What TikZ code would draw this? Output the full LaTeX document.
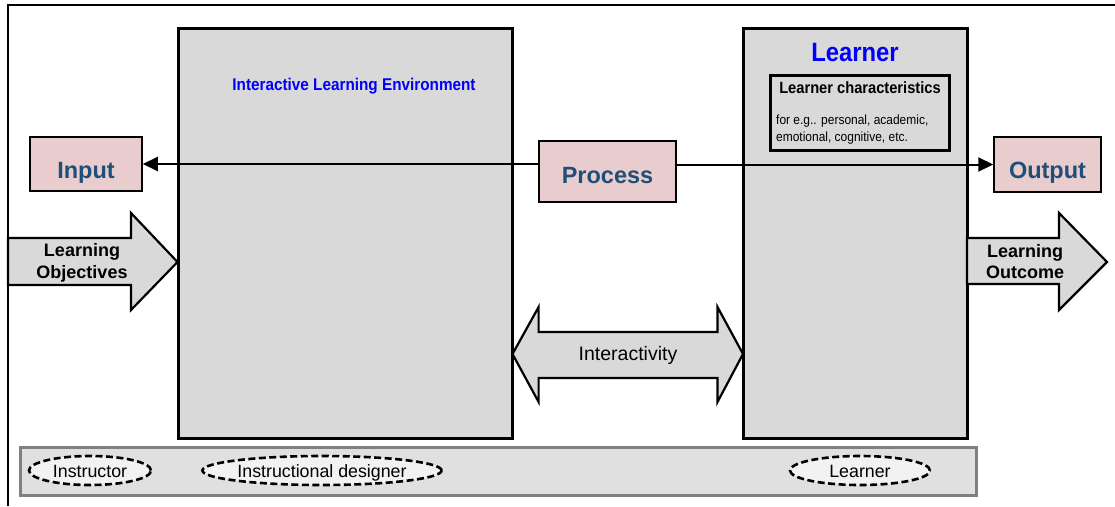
\documentclass[tikz,border=0pt]{standalone}
\usepackage{fontspec}
\setmainfont{Liberation Sans}
\newfontfamily\narrowfont[FakeStretch=0.9]{Liberation Sans}
\usetikzlibrary{arrows.meta,shapes.geometric}

\definecolor{boxgray}{HTML}{D9D9D9}
\definecolor{bandgray}{HTML}{E0E0E0}
\definecolor{bandedge}{HTML}{808080}
\definecolor{pinkbox}{HTML}{E9CCCD}
\definecolor{navytext}{HTML}{1F4E79}
\definecolor{ovalfill}{HTML}{F2F2F2}

\tikzset{
  lbl/.style={inner sep=0pt},
  bigbox/.style={draw,line width=3pt,fill=boxgray,inner sep=0pt},
  iobox/.style={draw,line width=1.5pt,fill=pinkbox,text=navytext,inner sep=0pt,
    font=\bfseries\fontsize{23.5}{28}\selectfont},
  blockarrow/.style={draw,line width=2.2pt,fill=boxgray,line join=miter},
  role/.style={ellipse,draw,dash pattern=on 7pt off 3.5pt,line width=2.6pt,fill=ovalfill,
    inner sep=0pt,text height=13pt,text depth=0pt,minimum height=29pt,
    font=\fontsize{17.8}{20}\selectfont},
  flow/.style={line width=2pt,-{Triangle[length=15pt,width=14pt]}},
}

\begin{document}
\begin{tikzpicture}[x=1pt,y=-1pt]
        \useasboundingbox (0,0) rectangle (1115,506);

        % frame and bottom band
        \draw[line width=2pt] (8,506) -- (8,5) -- (1115,5);
        \node[draw=bandedge,line width=3pt,fill=bandgray,minimum width=956pt,minimum height=48pt,inner sep=0pt] (band) at (498,471) {};

        % the two main boxes
        \node[bigbox,minimum width=334.5pt,minimum height=410pt] (ile) at (345.25,233) {};
        \node[bigbox,minimum width=224.5pt,minimum height=410pt] (learner) at (855.25,233) {};

        \node[lbl,anchor=base,text=blue,font=\narrowfont\bfseries\fontsize{17}{20}\selectfont] (ilelabel) at (354,90) {Interactive Learning Environment};
        \node[lbl,anchor=base,text=blue,font=\narrowfont\bfseries\fontsize{26.5}{30}\selectfont] (learnerlabel) at (855,61.7) {Learner};

        \node[draw,line width=3pt,fill=boxgray,minimum width=179pt,minimum height=75pt,inner sep=0pt] (traits) at (859.5,112.5) {};
        \node[lbl,anchor=base,font=\narrowfont\bfseries\fontsize{16.3}{19}\selectfont] (traitstitle) at (860,93) {Learner characteristics};
        \node[lbl,anchor=base west,font=\narrowfont\fontsize{13.3}{16}\selectfont] (traitsa) at (776,124) {for e.g.. personal, academic,};
        \node[lbl,anchor=base west,font=\narrowfont\fontsize{13.3}{16}\selectfont] (traitsb) at (776,141) {emotional, cognitive, etc.};

        % input - process - output
        \node[iobox,minimum width=112pt,text height=41.3pt,text depth=12.7pt] (input) at (86,164) {Input};
        \node[iobox,minimum width=137pt,text height=42.3pt,text depth=18.7pt] (process) at (607.5,171.5) {Process};
        \node[iobox,minimum width=107pt,text height=41.3pt,text depth=13.7pt] (output) at (1047.5,164.5) {Output};

        \draw[flow] (process.west |- input.east) -- (input.east);
        \draw[flow] (process.east |- output.west) -- (output.west);

        % block arrows
        \draw[blockarrow] (8,238) -- (131,238) -- (131,213) -- (177.5,262) -- (131,310) -- (131,285) -- (8,285) -- cycle;
        \node[lbl,align=center,font=\bfseries\fontsize{18}{21.5}\selectfont] (objectives) at (82,263) {Learning\\Objectives};

        \draw[blockarrow] (967,238) -- (1059,238) -- (1059,213) -- (1107,262) -- (1059,310) -- (1059,284) -- (967,284) -- cycle;
        \node[lbl,align=center,font=\bfseries\fontsize{18}{21.5}\selectfont] (outcome) at (1025,261.7) {Learning\\Outcome};

        \draw[blockarrow] (512.5,354) -- (538.6,307) -- (538.6,332) -- (717.5,332) -- (717.5,307) -- (743,354)
              -- (717.5,402) -- (717.5,378) -- (538.6,378) -- (538.6,402) -- cycle;
        \node[lbl,anchor=base,font=\fontsize{19.5}{22}\selectfont] (interactivity) at (628,360.7) {Interactivity};

        % roles
        \node[role,minimum width=122pt] (instructor) at (90,470.5) {Instructor};
        \node[role,minimum width=233pt] (designer) at (322,470.5) {Instructional designer};
        \node[role,minimum width=140pt] (learnerrole) at (860,470.5) {Learner};

\end{tikzpicture}
\end{document}
